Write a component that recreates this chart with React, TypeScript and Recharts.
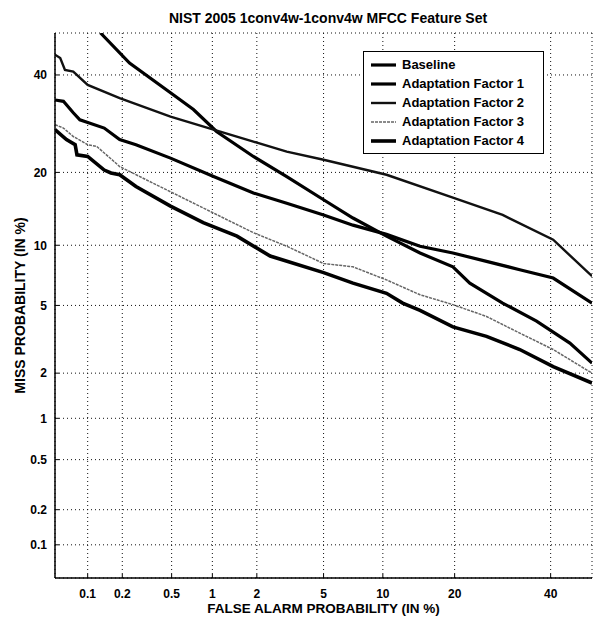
import React from 'react'
import { LineChart, Line, XAxis, YAxis, CartesianGrid, Legend } from 'recharts'

// DET plot: both axes are on a normal-deviate (probit) scale, 0.05% .. 50%
const AXIS_MIN = 0.05
const AXIS_MAX = 50
const TICKS = [0.1, 0.2, 0.5, 1, 2, 5, 10, 20, 40]

// false alarm % / miss % pairs
const baselineFa = [0.13, 0.23, 0.49, 0.73, 1.07, 1.9, 3.07, 5, 7.15, 10.4, 14.6, 19.7, 22.7, 29.2, 36.7, 44.6, 50]
const baselineMiss = [50, 42.8, 35.9, 32.2, 27.6, 22.8, 19.3, 15.7, 13.2, 11.0, 9.2, 7.9, 6.55, 5.15, 4.1, 3.06, 2.31]

const factor1Fa = [0.05, 0.06, 0.074, 0.085, 0.14, 0.19, 0.26, 0.49, 1.02, 1.9, 3.07, 5, 7.15, 10.4, 14.6, 19.7, 25.9, 32.9, 40.6, 50]
const factor1Miss = [34.3, 34.0, 31.5, 30.0, 28.3, 26.0, 25.0, 22.5, 19.3, 16.7, 15.2, 13.6, 12.3, 11.2, 9.9, 9.2, 8.4, 7.65, 6.95, 5.15]

const factor2Fa = [0.05, 0.056, 0.062, 0.074, 0.1, 0.19, 0.49, 1.02, 1.9, 3.07, 5, 10.4, 19.7, 29.2, 40.6, 50]
const factor2Miss = [44.8, 44.0, 41.2, 40.8, 37.7, 34.7, 30.7, 28.0, 25.6, 23.7, 22.2, 19.6, 16.0, 13.6, 10.6, 7.1]

const factor3Fa = [0.05, 0.06, 0.074, 0.1, 0.12, 0.17, 0.19, 0.36, 0.65, 1.14, 1.9, 3.07, 5, 7.15, 10.4, 14.6, 19.7, 25.9, 32.9, 40.6, 50]
const factor3Miss = [29.0, 28.3, 26.6, 25.0, 24.7, 21.9, 21.0, 18.2, 15.7, 13.4, 11.4, 9.9, 8.2, 7.9, 6.8, 5.7, 5.05, 4.35, 3.5, 2.8, 2.0]

const factor4Fa = [0.05, 0.064, 0.077, 0.08, 0.1, 0.14, 0.16, 0.19, 0.26, 0.49, 0.86, 1.48, 2.43, 5, 7.15, 10.4, 12.3, 14.6, 19.7, 25.9, 32.9, 40.6, 50]
const factor4Miss = [28.0, 26.0, 25.0, 23.1, 22.8, 20.4, 19.9, 19.6, 17.7, 14.8, 12.6, 11.0, 8.9, 7.4, 6.55, 5.8, 5.15, 4.7, 3.8, 3.35, 2.8, 2.2, 1.73]

const FONT = '"Liberation Sans", Arial, Helvetica, sans-serif'

// inverse normal CDF (Acklam's approximation)
function probit(p: number): number {
  const a = [-39.69683028665376, 220.9460984245205, -275.9285104469687, 138.3577518672690, -30.66479806614716, 2.506628277459239]
  const b = [-54.47609879822406, 161.5858368580409, -155.6989798598866, 66.80131188771972, -13.28068155288572]
  const c = [-0.007784894002430293, -0.3223964580411365, -2.400758277161838, -2.549732539343734, 4.374664141464968, 2.938163982698783]
  const d = [0.007784695709041462, 0.3224671290700398, 2.445134137142996, 3.754408661907416]
  const pLow = 0.02425
  if (p < pLow) {
    const q = Math.sqrt(-2 * Math.log(p))
    return (((((c[0] * q + c[1]) * q + c[2]) * q + c[3]) * q + c[4]) * q + c[5]) /
      ((((d[0] * q + d[1]) * q + d[2]) * q + d[3]) * q + 1)
  }
  if (p <= 1 - pLow) {
    const q = p - 0.5
    const r = q * q
    return (((((a[0] * r + a[1]) * r + a[2]) * r + a[3]) * r + a[4]) * r + a[5]) * q /
      (((((b[0] * r + b[1]) * r + b[2]) * r + b[3]) * r + b[4]) * r + 1)
  }
  const q = Math.sqrt(-2 * Math.log(1 - p))
  return -(((((c[0] * q + c[1]) * q + c[2]) * q + c[3]) * q + c[4]) * q + c[5]) /
    ((((d[0] * q + d[1]) * q + d[2]) * q + d[3]) * q + 1)
}

const toDev = (pct: number) => probit(pct / 100)
const tickDevs = TICKS.map(toDev)
const domain = [toDev(AXIS_MIN), toDev(AXIS_MAX)]
const formatTick = (z: number) => {
  const i = tickDevs.findIndex(t => Math.abs(t - z) < 1e-6)
  return i >= 0 ? String(TICKS[i]) : ''
}

const buildCurve = (fa: number[], miss: number[]) =>
  fa.map((f, i) => ({ x: toDev(f), y: toDev(miss[i]) }))

const series = [
  { name: 'Baseline', data: buildCurve(baselineFa, baselineMiss), color: '#000', width: 3.2, dash: undefined },
  { name: 'Adaptation Factor 1', data: buildCurve(factor1Fa, factor1Miss), color: '#000', width: 3.2, dash: undefined },
  { name: 'Adaptation Factor 2', data: buildCurve(factor2Fa, factor2Miss), color: '#111', width: 2.4, dash: undefined },
  { name: 'Adaptation Factor 3', data: buildCurve(factor3Fa, factor3Miss), color: '#666', width: 1.5, dash: '3 1' },
  { name: 'Adaptation Factor 4', data: buildCurve(factor4Fa, factor4Miss), color: '#000', width: 3.6, dash: undefined },
]

function DetLegend() {
  return (
    <div
      style={{
        border: '1px solid #000',
        background: '#fff',
        width: 172,
        padding: '3px 0 3px 7px',
        fontFamily: FONT,
        fontSize: 13,
        fontWeight: 'bold',
        color: '#000',
      }}
    >
      {series.map(s => (
        <div key={s.name} style={{ display: 'flex', alignItems: 'center', height: 19 }}>
          <svg width={25} height={8}>
            <line x1={0} x2={25} y1={4} y2={4} stroke={s.color} strokeWidth={s.width} strokeDasharray={s.dash} />
          </svg>
          <span style={{ marginLeft: 6, whiteSpace: 'nowrap' }}>{s.name}</span>
        </div>
      ))}
    </div>
  )
}

export default function App() {
  const tickStyle = { fontSize: 12, fontWeight: 'bold', fill: '#000', fontFamily: FONT }
  return (
    <div style={{ position: 'absolute', left: 0, top: 0, width: 594, height: 617, background: '#fff', fontFamily: FONT }}>
      <div
        style={{
          position: 'absolute',
          left: 62,
          width: 532,
          top: 10,
          textAlign: 'center',
          fontSize: 14,
          fontWeight: 'bold',
          lineHeight: '16px',
          color: '#000',
        }}
      >
        NIST 2005 1conv4w-1conv4w MFCC Feature Set
      </div>
      <LineChart width={594} height={617} margin={{ top: 33, right: 2, bottom: 0, left: 5 }}>
        <CartesianGrid stroke="#111" strokeDasharray="1 3" />
        <XAxis
          type="number"
          dataKey="x"
          domain={domain}
          allowDataOverflow
          ticks={tickDevs}
          interval={0}
          tickFormatter={formatTick}
          height={39}
          tickSize={-4}
          tickMargin={15}
          tick={tickStyle}
          axisLine={{ stroke: '#000', strokeWidth: 1.5 }}
          tickLine={{ stroke: '#000' }}
          label={{
            value: 'FALSE ALARM PROBABILITY (IN %)',
            position: 'insideBottom',
            offset: 4,
            style: { fontSize: 13.5, fontWeight: 'bold', fill: '#000', fontFamily: FONT },
          }}
        />
        <YAxis
          type="number"
          dataKey="y"
          domain={domain}
          allowDataOverflow
          ticks={tickDevs}
          interval={0}
          tickFormatter={formatTick}
          width={50}
          tickSize={-4}
          tickMargin={12}
          tick={tickStyle}
          axisLine={{ stroke: '#000', strokeWidth: 1.5 }}
          tickLine={{ stroke: '#000' }}
          label={{
            value: 'MISS PROBABILITY (IN %)',
            angle: -90,
            position: 'insideLeft',
            offset: 15,
            style: { fontSize: 14, fontWeight: 'bold', fill: '#000', fontFamily: FONT, textAnchor: 'middle' },
          }}
        />
        <Legend
          layout="vertical"
          align="center"
          verticalAlign="middle"
          content={() => <DetLegend />}
          wrapperStyle={{ left: 363, top: 51, width: 'auto', height: 'auto' }}
        />
        {series.map(s => (
          <Line
            key={s.name}
            name={s.name}
            data={s.data}
            dataKey="y"
            type="linear"
            stroke={s.color}
            strokeWidth={s.width}
            strokeDasharray={s.dash}
            dot={false}
            activeDot={false}
            isAnimationActive={false}
          />
        ))}
      </LineChart>
    </div>
  )
}
